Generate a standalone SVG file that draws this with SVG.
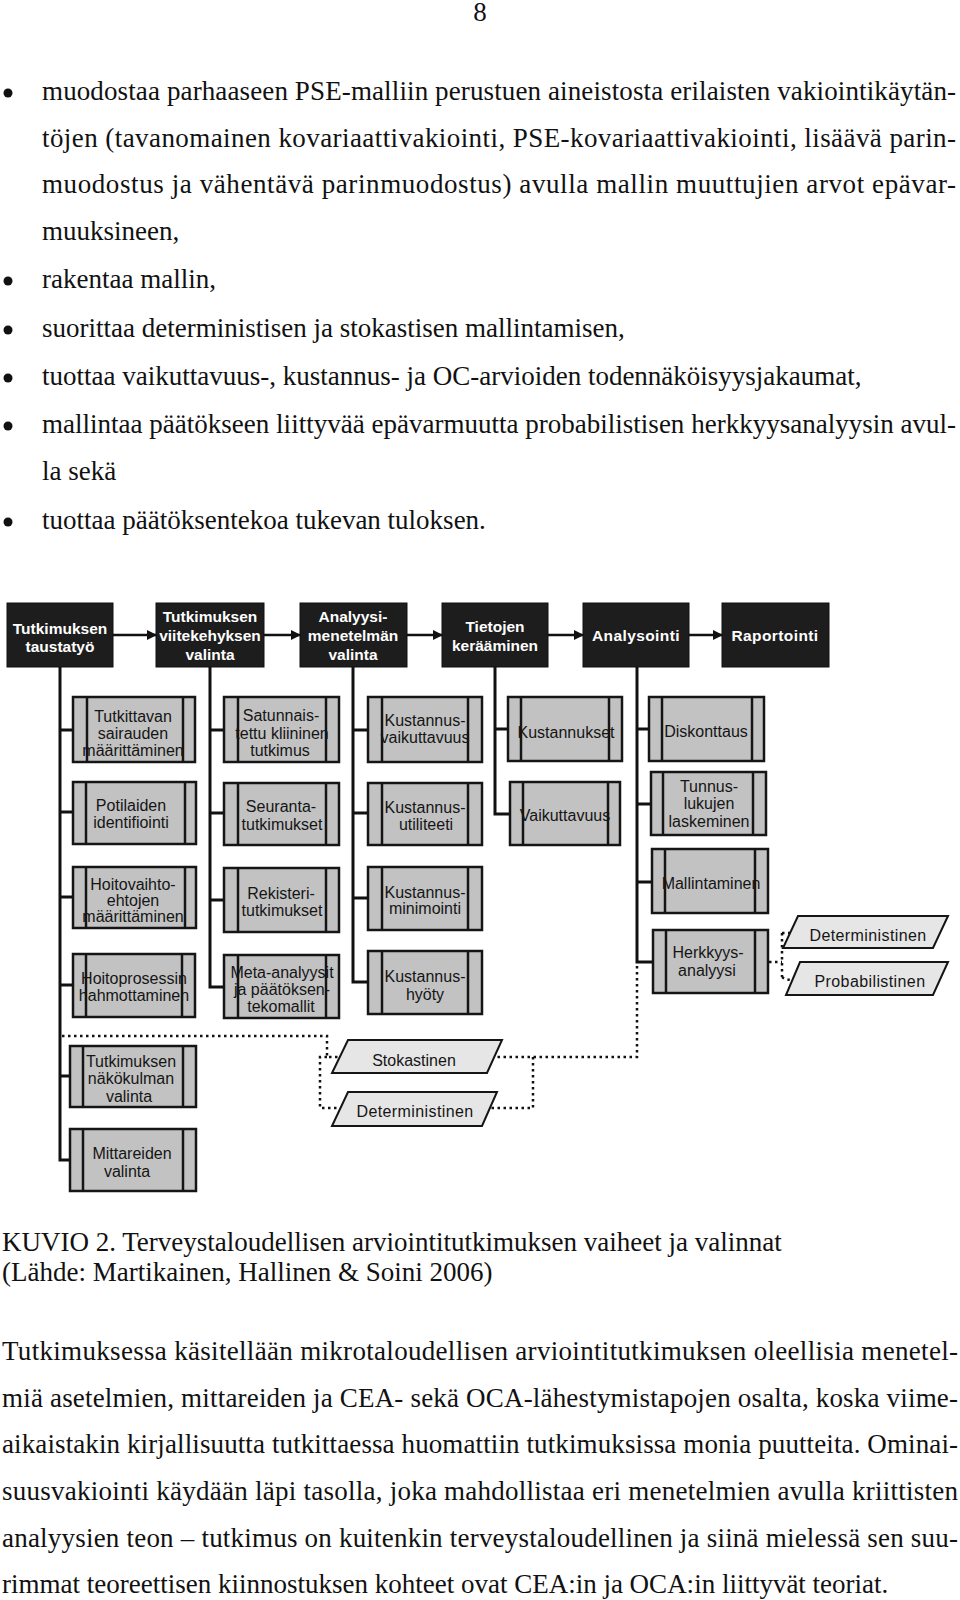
<svg xmlns="http://www.w3.org/2000/svg" width="960" height="1600" viewBox="0 0 960 1600">
<style>
.hdr{fill:#1d1d1d;stroke:#111;stroke-width:1}
.ht{font-family:"Liberation Sans",Arial,sans-serif;font-weight:bold;font-size:15.5px;fill:#fff;text-anchor:middle}
.box{fill:#c2c2c2;stroke:#151515;stroke-width:2.5}
.in{stroke:#151515;stroke-width:2.5}
.bt{font-family:"Liberation Sans",Arial,sans-serif;font-size:16px;fill:#151515;text-anchor:middle}
.par{fill:#e6e6e6;stroke:#151515;stroke-width:2}
.con{stroke:#111;stroke-width:3;fill:none}
.arr{stroke:#111;stroke-width:2.5;fill:none;marker-end:url(#ah)}
.dot{stroke:#111;stroke-width:2.5;stroke-dasharray:2.5 3.5;fill:none}
.tx{font-family:"Liberation Serif","Times New Roman",serif;font-size:27px;fill:#111}
</style>
<defs>
<marker id="ah" viewBox="0 0 10 10" refX="9" refY="5" markerWidth="4" markerHeight="4" orient="auto" markerUnits="strokeWidth">
<path d="M0,0 L10,5 L0,10 z" fill="#111"/>
</marker>
</defs>
<rect width="960" height="1600" fill="#fff"/>

<!-- page text -->
<g id="page-text">
<text class="tx" x="480" y="21" text-anchor="middle">8</text>
<circle cx="8" cy="93" r="4.5" fill="#111"/>
<circle cx="8" cy="281" r="4.5" fill="#111"/>
<circle cx="8" cy="330" r="4.5" fill="#111"/>
<circle cx="8" cy="378" r="4.5" fill="#111"/>
<circle cx="8" cy="426" r="4.5" fill="#111"/>
<circle cx="8" cy="522" r="4.5" fill="#111"/>
<text class="tx" x="42" y="100" textLength="914" lengthAdjust="spacing">muodostaa parhaaseen PSE-malliin perustuen aineistosta erilaisten vakiointikäytän-</text>
<text class="tx" x="42" y="147" textLength="914" lengthAdjust="spacing">töjen (tavanomainen kovariaattivakiointi, PSE-kovariaattivakiointi, lisäävä parin-</text>
<text class="tx" x="42" y="193" textLength="914" lengthAdjust="spacing">muodostus ja vähentävä parinmuodostus) avulla mallin muuttujien arvot epävar-</text>
<text class="tx" x="42" y="240">muuksineen,</text>
<text class="tx" x="42" y="288">rakentaa mallin,</text>
<text class="tx" x="42" y="337">suorittaa deterministisen ja stokastisen mallintamisen,</text>
<text class="tx" x="42" y="385">tuottaa vaikuttavuus-, kustannus- ja OC-arvioiden todennäköisyysjakaumat,</text>
<text class="tx" x="42" y="433" textLength="914" lengthAdjust="spacing">mallintaa päätökseen liittyvää epävarmuutta probabilistisen herkkyysanalyysin avul-</text>
<text class="tx" x="42" y="480">la sekä</text>
<text class="tx" x="42" y="529">tuottaa päätöksentekoa tukevan tuloksen.</text>

<text class="tx" x="2" y="1251">KUVIO 2. Terveystaloudellisen arviointitutkimuksen vaiheet ja valinnat</text>
<text class="tx" x="2" y="1281">(Lähde: Martikainen, Hallinen &amp; Soini 2006)</text>

<text class="tx" x="2" y="1360" textLength="956" lengthAdjust="spacing">Tutkimuksessa käsitellään mikrotaloudellisen arviointitutkimuksen oleellisia menetel-</text>
<text class="tx" x="2" y="1407" textLength="956" lengthAdjust="spacing">miä asetelmien, mittareiden ja CEA- sekä OCA-lähestymistapojen osalta, koska viime-</text>
<text class="tx" x="2" y="1453" textLength="956" lengthAdjust="spacing">aikaistakin kirjallisuutta tutkittaessa huomattiin tutkimuksissa monia puutteita. Ominai-</text>
<text class="tx" x="2" y="1500" textLength="956" lengthAdjust="spacing">suusvakiointi käydään läpi tasolla, joka mahdollistaa eri menetelmien avulla kriittisten</text>
<text class="tx" x="2" y="1547" textLength="956" lengthAdjust="spacing">analyysien teon – tutkimus on kuitenkin terveystaloudellinen ja siinä mielessä sen suu-</text>
<text class="tx" x="2" y="1593">rimmat teoreettisen kiinnostuksen kohteet ovat CEA:in ja OCA:in liittyvät teoriat.</text>
</g>

<!-- connectors -->
<g id="connectors">
<line class="arr" x1="113" y1="635" x2="156" y2="635"/>
<line class="arr" x1="264" y1="635" x2="300" y2="635"/>
<line class="arr" x1="407" y1="635" x2="442" y2="635"/>
<line class="arr" x1="548" y1="635" x2="583" y2="635"/>
<line class="arr" x1="689" y1="635" x2="722" y2="635"/>

<path class="con" d="M60,667 V1160 H70 M60,730 H73 M60,812 H73 M60,897 H73 M60,985 H73 M60,1076 H70"/>
<path class="con" d="M210,667 V987 H224 M210,730 H224 M210,813 H224 M210,900 H224"/>
<path class="con" d="M353,667 V982 H368 M353,730 H368 M353,813 H368 M353,898 H368"/>
<path class="con" d="M495,667 V814 H510 M495,729 H508"/>
<path class="con" d="M637,667 V962 H653 M637,729 H649 M637,804 H651 M637,882 H652"/>

<path class="dot" d="M637,966 V1057 H496"/>
<path class="dot" d="M533,1057 V1108 H490"/>
<path class="dot" d="M62,1036 H327 V1057 H340"/>
<path class="dot" d="M327,1057 H320 V1108 H340"/>
<path class="dot" d="M769,962 H782 M782,933 V977 M782,933 H791 M782,977 Q786,980 793,980"/>
</g>

<!-- header nodes -->
<g id="h1"><rect class="hdr" x="7" y="603" width="106" height="64"/><text class="ht" x="60" y="634">Tutkimuksen</text><text class="ht" x="60" y="652">taustatyö</text></g>
<g id="h2"><rect class="hdr" x="156" y="603" width="108" height="64"/><text class="ht" x="210" y="622">Tutkimuksen</text><text class="ht" x="210" y="641">viitekehyksen</text><text class="ht" x="210" y="660">valinta</text></g>
<g id="h3"><rect class="hdr" x="300" y="603" width="107" height="64"/><text class="ht" x="353" y="622">Analyysi-</text><text class="ht" x="353" y="641">menetelmän</text><text class="ht" x="353" y="660">valinta</text></g>
<g id="h4"><rect class="hdr" x="442" y="603" width="106" height="64"/><text class="ht" x="495" y="632">Tietojen</text><text class="ht" x="495" y="651">kerääminen</text></g>
<g id="h5"><rect class="hdr" x="583" y="603" width="106" height="64"/><text class="ht" x="636" y="641" letter-spacing="0.4">Analysointi</text></g>
<g id="h6"><rect class="hdr" x="722" y="603" width="107" height="64"/><text class="ht" x="775" y="641" letter-spacing="0.4">Raportointi</text></g>

<!-- column 1 -->
<g id="c1a"><rect class="box" x="73" y="697" width="122" height="65"/><line class="in" x1="87" y1="697" x2="87" y2="762"/><line class="in" x1="183" y1="697" x2="183" y2="762"/><text class="bt" x="133" y="722">Tutkittavan</text><text class="bt" x="133" y="739">sairauden</text><text class="bt" x="133" y="756">määrittäminen</text></g>
<g id="c1b"><rect class="box" x="73" y="782" width="123" height="62"/><line class="in" x1="86" y1="782" x2="86" y2="844"/><line class="in" x1="185" y1="782" x2="185" y2="844"/><text class="bt" x="131" y="811">Potilaiden</text><text class="bt" x="131" y="828">identifiointi</text></g>
<g id="c1c"><rect class="box" x="73" y="867" width="123" height="61"/><line class="in" x1="86" y1="867" x2="86" y2="928"/><line class="in" x1="185" y1="867" x2="185" y2="928"/><text class="bt" x="133" y="890">Hoitovaihto-</text><text class="bt" x="133" y="906">ehtojen</text><text class="bt" x="133" y="922">määrittäminen</text></g>
<g id="c1d"><rect class="box" x="73" y="954" width="122" height="63"/><line class="in" x1="86" y1="954" x2="86" y2="1017"/><line class="in" x1="182" y1="954" x2="182" y2="1017"/><text class="bt" x="134" y="984">Hoitoprosessin</text><text class="bt" x="134" y="1001">hahmottaminen</text></g>
<g id="c1e"><rect class="box" x="70" y="1046" width="126" height="61"/><line class="in" x1="83" y1="1046" x2="83" y2="1107"/><line class="in" x1="183" y1="1046" x2="183" y2="1107"/><text class="bt" x="131" y="1067">Tutkimuksen</text><text class="bt" x="131" y="1084">näkökulman</text><text class="bt" x="129" y="1102">valinta</text></g>
<g id="c1f"><rect class="box" x="70" y="1129" width="126" height="62"/><line class="in" x1="83" y1="1129" x2="83" y2="1191"/><line class="in" x1="183" y1="1129" x2="183" y2="1191"/><text class="bt" x="132" y="1159">Mittareiden</text><text class="bt" x="127" y="1177">valinta</text></g>

<!-- column 2 -->
<g id="c2a"><rect class="box" x="224" y="697" width="115" height="65"/><line class="in" x1="238" y1="697" x2="238" y2="762"/><line class="in" x1="326" y1="697" x2="326" y2="762"/><text class="bt" x="281" y="721">Satunnais-</text><text class="bt" x="282" y="739">tettu kliininen</text><text class="bt" x="280" y="756">tutkimus</text></g>
<g id="c2b"><rect class="box" x="224" y="783" width="115" height="62"/><line class="in" x1="238" y1="783" x2="238" y2="845"/><line class="in" x1="326" y1="783" x2="326" y2="845"/><text class="bt" x="281" y="812">Seuranta-</text><text class="bt" x="282" y="830">tutkimukset</text></g>
<g id="c2c"><rect class="box" x="224" y="868" width="115" height="64"/><line class="in" x1="238" y1="868" x2="238" y2="932"/><line class="in" x1="326" y1="868" x2="326" y2="932"/><text class="bt" x="281" y="899">Rekisteri-</text><text class="bt" x="282" y="916">tutkimukset</text></g>
<g id="c2d"><rect class="box" x="224" y="955" width="115" height="63"/><line class="in" x1="238" y1="955" x2="238" y2="1018"/><line class="in" x1="326" y1="955" x2="326" y2="1018"/><text class="bt" x="282" y="978">Meta-analyysit</text><text class="bt" x="282" y="995">ja päätöksen-</text><text class="bt" x="281" y="1012">tekomallit</text></g>

<!-- column 3 -->
<g id="c3a"><rect class="box" x="368" y="697" width="114" height="65"/><line class="in" x1="382" y1="697" x2="382" y2="762"/><line class="in" x1="468" y1="697" x2="468" y2="762"/><text class="bt" x="425" y="726">Kustannus-</text><text class="bt" x="425" y="743">vaikuttavuus</text></g>
<g id="c3b"><rect class="box" x="368" y="783" width="114" height="62"/><line class="in" x1="382" y1="783" x2="382" y2="845"/><line class="in" x1="468" y1="783" x2="468" y2="845"/><text class="bt" x="425" y="813">Kustannus-</text><text class="bt" x="426" y="830">utiliteeti</text></g>
<g id="c3c"><rect class="box" x="368" y="867" width="114" height="63"/><line class="in" x1="382" y1="867" x2="382" y2="930"/><line class="in" x1="468" y1="867" x2="468" y2="930"/><text class="bt" x="425" y="898">Kustannus-</text><text class="bt" x="425" y="914">minimointi</text></g>
<g id="c3d"><rect class="box" x="368" y="951" width="114" height="63"/><line class="in" x1="382" y1="951" x2="382" y2="1014"/><line class="in" x1="468" y1="951" x2="468" y2="1014"/><text class="bt" x="425" y="982">Kustannus-</text><text class="bt" x="425" y="1000">hyöty</text></g>

<!-- column 4 -->
<g id="c4a"><rect class="box" x="508" y="697" width="114" height="64"/><line class="in" x1="521" y1="697" x2="521" y2="761"/><line class="in" x1="609" y1="697" x2="609" y2="761"/><text class="bt" x="566" y="738">Kustannukset</text></g>
<g id="c4b"><rect class="box" x="510" y="782" width="110" height="63"/><line class="in" x1="523" y1="782" x2="523" y2="845"/><line class="in" x1="608" y1="782" x2="608" y2="845"/><text class="bt" x="565" y="821">Vaikuttavuus</text></g>

<!-- column 5 -->
<g id="c5a"><rect class="box" x="649" y="697" width="115" height="64"/><line class="in" x1="662" y1="697" x2="662" y2="761"/><line class="in" x1="752" y1="697" x2="752" y2="761"/><text class="bt" x="706" y="737">Diskonttaus</text></g>
<g id="c5b"><rect class="box" x="651" y="772" width="115" height="63"/><line class="in" x1="663" y1="772" x2="663" y2="835"/><line class="in" x1="753" y1="772" x2="753" y2="835"/><text class="bt" x="709" y="792">Tunnus-</text><text class="bt" x="709" y="809">lukujen</text><text class="bt" x="709" y="827">laskeminen</text></g>
<g id="c5c"><rect class="box" x="652" y="849" width="116" height="64"/><line class="in" x1="665" y1="849" x2="665" y2="913"/><line class="in" x1="755" y1="849" x2="755" y2="913"/><text class="bt" x="711" y="889">Mallintaminen</text></g>
<g id="c5d"><rect class="box" x="653" y="930" width="115" height="63"/><line class="in" x1="666" y1="930" x2="666" y2="993"/><line class="in" x1="755" y1="930" x2="755" y2="993"/><text class="bt" x="708" y="958">Herkkyys-</text><text class="bt" x="707" y="976">analyysi</text></g>

<!-- parallelograms -->
<g id="p-det-r"><polygon class="par" points="798,916 948,916 933,948 783,948"/><text class="bt" x="868" y="941" letter-spacing="0.4">Deterministinen</text></g>
<g id="p-prob"><polygon class="par" points="800,962 948,962 933,995 786,995"/><text class="bt" x="870" y="987" letter-spacing="0.4">Probabilistinen</text></g>
<g id="p-stok"><polygon class="par" points="348,1040 502,1040 487,1073 332,1073"/><text class="bt" x="414" y="1066">Stokastinen</text></g>
<g id="p-det-l"><polygon class="par" points="348,1092 497,1092 482,1126 332,1126"/><text class="bt" x="415" y="1117" letter-spacing="0.4">Deterministinen</text></g>
</svg>
